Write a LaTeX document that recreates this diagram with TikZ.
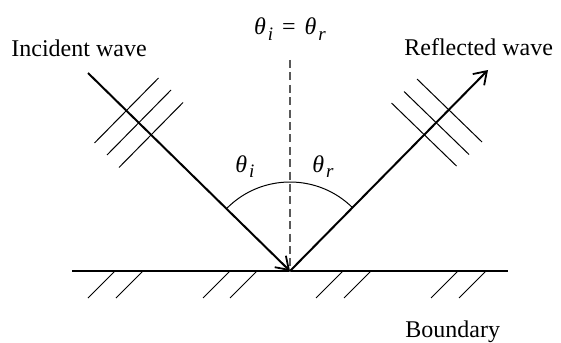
\documentclass[tikz,border=0pt]{standalone}
\usepackage{fontspec}
\setmainfont{Liberation Serif}
\usetikzlibrary{arrows.meta}
\newcommand\thlab[1]{\textit{θ}\kern1pt\raisebox{-2.6pt}{\fontsize{9.5}{11}\selectfont\textit{#1}}}
\begin{document}
\begin{tikzpicture}[x=0.5pt,y=-0.5pt,
  ray/.style={line width=1pt,-{Straight Barb[length=6pt,width=8pt,line width=0.9pt]}},
  wavefront/.style={line width=0.5pt},
  hatch/.style={line width=0.5pt},
  boundaryline/.style={line width=1.1pt},
  normalline/.style={line width=0.6pt,draw=black!65,dash pattern=on 4pt off 2.2pt},
  lbl/.style={inner sep=0pt,font=\rmfamily\fontsize{12}{14}\selectfont}]
\useasboundingbox (0,0) rectangle (561,342);
% key points
\coordinate (O) at (290,271);
\coordinate (S) at (88,73);
\coordinate (E) at (488,70);
\coordinate (N) at (290,60);
\coordinate (BL) at (72,271);
\coordinate (BR) at (508,271);
% boundary
\draw[boundaryline] (BL) -- (BR);
\foreach \x in {115,143,230,257,343,371,458,486}
  \draw[hatch] (\x,271) -- ++(-27,27);
% normal
\draw[normalline] (N) -- (O);
% arc
\draw[line width=0.5pt] (O) ++(-45:89) arc[start angle=-45,end angle=-135,radius=89];
% rays
\draw[ray] (S) -- (O);
\draw[ray] (O) -- (E);
% incident wavefronts
\foreach \cx/\cy in {126.5/110.5,139/122.5,151/135}
  \draw[wavefront] (\cx+32,\cy-32.5) -- (\cx-32,\cy+32.5);
% reflected wavefronts
\foreach \cx/\cy in {424/134.5,436.5/123,449.5/110.5}
  \draw[wavefront] (\cx-32.5,\cy-31.5) -- (\cx+32.5,\cy+31.5);
% labels
\node[lbl,anchor=base west] (inc) at (11,57) {Incident wave};
\node[lbl,anchor=base west] (ref) at (404,56) {Reflected wave};
\node[lbl,anchor=base west] (bnd) at (405,337) {Boundary};
\node[lbl,anchor=base] (eq) at (290,35) {\thlab{i}\kern4.5pt=\kern4.5pt\thlab{r}};
\node[lbl,anchor=base west] (ti) at (235,172) {\thlab{i}};
\node[lbl,anchor=base west] (tr) at (312,172) {\thlab{r}};
\end{tikzpicture}
\end{document}
